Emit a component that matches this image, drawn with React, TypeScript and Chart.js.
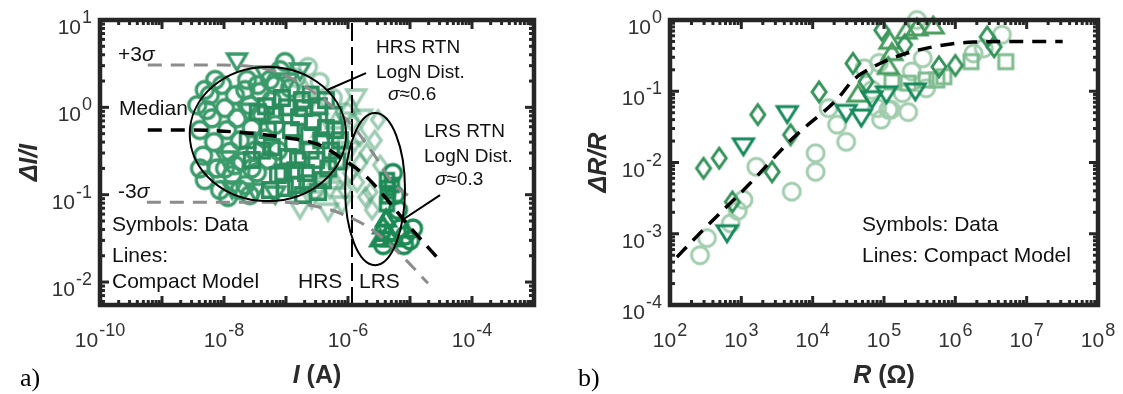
import React, { useEffect, useRef } from 'react';
import { Chart, registerables } from 'chart.js';

Chart.register(...registerables);

type Pt = [number, number];

const SANS = '"Liberation Sans", Arial, Helvetica, sans-serif';
const SERIF = '"Liberation Serif", "Times New Roman", serif';

// ---------------- Panel a : ΔI/I versus I ----------------
const aXRange = [1e-10, 1e-3];
const aYRange = [0.00546, 10];
const aXTickExps = [-10, -8, -6, -4];
const aYTickExps = [1, 0, -1, -2];

const aCircles: Pt[] = [
  [3.7e-9, 1.06], [4.1e-9, 0.55], [4.6e-9, 0.28], [4.9e-9, 0.147], [5.9e-9, 1.38], [6.4e-9, 0.75],
  [6.9e-9, 0.40], [7.7e-9, 0.20], [8.6e-9, 0.113], [9.3e-9, 1.8], [1.04e-8, 0.98], [1.12e-8, 0.55],
  [1.25e-8, 0.31], [1.35e-8, 0.168], [1.5e-8, 1.38], [1.62e-8, 0.75], [1.8e-8, 0.42], [1.95e-8, 0.24],
  [2.2e-8, 0.129], [2.35e-8, 2.06], [2.6e-8, 1.06], [2.8e-8, 0.58], [3.2e-8, 0.32], [3.4e-8, 0.18],
  [3.8e-8, 1.5], [4.1e-8, 0.82], [4.6e-8, 0.44], [5.1e-8, 0.25], [5.5e-8, 2.06], [5.9e-8, 1.21],
  [6.7e-8, 0.63], [7.4e-8, 0.32], [8e-8, 2.67], [9.6e-8, 3.3], [2.6e-8, 0.099], [1.16e-8, 0.094],
  [5.3e-9, 0.93], [1.5e-8, 0.218], [3.5e-8, 1.8], [1.16e-7, 1.66], [7.2e-9, 2.06], [4.9e-9, 1.58],
  [2.2e-8, 1.58], [1.04e-8, 0.2], [4.1e-9, 0.2], [2.8e-8, 0.2], [6.7e-8, 1.8], [1.8e-8, 0.113],
];
const aSquares: Pt[] = [
  [2.4e-8, 0.42], [2.8e-8, 0.25], [3.5e-8, 0.88], [4.1e-8, 0.32], [4.75e-8, 1.03], [5.1e-8, 0.55],
  [5.9e-8, 0.35], [6.7e-8, 0.82], [7.4e-8, 0.168], [8.6e-8, 1.28], [9e-8, 0.18], [1.04e-7, 1.0],
  [1.08e-7, 0.27], [1.2e-7, 0.55], [1.3e-7, 0.39], [1.45e-7, 0.129], [1.56e-7, 0.25], [1.62e-7, 0.77],
  [1.8e-7, 1.21], [1.95e-7, 0.98], [2.1e-7, 0.177], [2.35e-7, 0.48], [2.5e-7, 0.32], [2.7e-7, 0.68],
  [3.05e-7, 0.25], [3.4e-7, 1.03], [3.7e-7, 0.42], [3.95e-7, 0.147], [4.4e-7, 0.58], [5.3e-7, 0.32],
  [5.9e-7, 0.82], [6.65e-7, 0.24], [9.6e-8, 0.119], [5.5e-8, 0.113], [1.88e-7, 0.099], [3.3e-7, 0.107],
  [2.5e-7, 1.4], [4.4e-7, 1.21], [6.2e-7, 0.55], [7.4e-7, 0.42], [1.4e-7, 0.19], [4.8e-7, 0.2],
  [2.2e-7, 0.135],
];
const aDownTri: Pt[] = [
  [1.62e-8, 3.3], [3.2e-8, 0.107], [2.35e-8, 0.88], [1.08e-8, 0.25], [4.6e-8, 2.34], [1.08e-7, 1.95],
  [1.35e-8, 0.113], [6.7e-8, 0.099], [1.68e-7, 2.54],
];
const aLightCircles: Pt[] = [
  [2.26e-7, 2.9], [3.5e-7, 1.95], [5.7e-7, 1.28], [9e-7, 0.88], [1.45e-7, 2.17], [2.9e-7, 0.113],
];
const aLightUpTri: Pt[] = [
  [2.0e-7, 1.66], [3.3e-7, 1.06], [6.4e-7, 0.72], [8.3e-7, 0.42], [4.4e-7, 0.191], [1.08e-6, 1.06],
  [6.2e-7, 0.147], [3.8e-7, 0.58],
];
const aLightDownTri: Pt[] = [
  [2.6e-7, 0.087], [4.75e-7, 0.063], [8e-7, 0.076], [1.35e-6, 1.28], [1.68e-6, 0.75], [1.08e-6, 0.32],
  [1.68e-7, 0.067], [5.1e-7, 0.113],
];
const aLightDiamonds: Pt[] = [
  [1.16e-6, 0.68], [1.56e-6, 0.46], [2.0e-6, 0.30], [1.56e-6, 0.23], [1.9e-6, 0.094], [1.08e-6, 0.177],
  [2.3e-6, 0.107], [2.7e-6, 0.42], [2.44e-6, 0.067], [3.3e-6, 0.218], [1.4e-6, 0.139], [9e-7, 0.113],
  [3.05e-6, 0.72], [7.4e-7, 0.25],
];
const aLrsSquares: Pt[] = [
  [4.25e-6, 0.147], [4.4e-6, 0.119], [4.4e-6, 0.096], [4.25e-6, 0.078], [5.1e-6, 0.129],
];
const aLrsUpTri: Pt[] = [
  [3.7e-6, 0.045], [4.4e-6, 0.037], [3.3e-6, 0.032], [5.1e-6, 0.032], [4.1e-6, 0.054],
];
const aLrsCircles: Pt[] = [
  [5.3e-6, 0.177], [6.9e-6, 0.041], [8.3e-6, 0.034], [1e-5, 0.030], [8e-6, 0.0265], [1.12e-5, 0.041],
  [6.4e-6, 0.067], [5.7e-6, 0.099], [3.7e-6, 0.0265],
];

// compact model lines (panel a)
const aMedianI = [5.9e-10, 2.8e-9, 2.35e-8, 8e-8, 3.5e-7, 7.4e-7, 2.0e-6, 1e-5, 2.7e-5];
const aMedianY = [0.55, 0.55, 0.51, 0.46, 0.37, 0.27, 0.159, 0.0426, 0.0193];
const aUpperI = [5.9e-10, 9.6e-9, 7.2e-8, 1.88e-7, 1.08e-6, 2.53e-6, 5.3e-6, 1.2e-5];
const aUpperY = [3.05, 3.05, 2.54, 1.8, 0.66, 0.30, 0.136, 0.087];
const aLowerI = [5.7e-10, 8e-8, 3.5e-7, 7.4e-7, 2.3e-6, 6.9e-6, 1.95e-5];
const aLowerY = [0.082, 0.082, 0.072, 0.0615, 0.041, 0.0209, 0.0097];
const aBoundaryI = 1.16e-6; // HRS / LRS boundary

// ellipses: [I left, I right, y top, y bottom]
const aHrsEllipse = [2.8e-9, 9.3e-7, 2.9, 0.0845];
const aLrsEllipse = [9e-7, 8.3e-6, 0.86, 0.0156];
const aHrsLeader: Pt[] = [[4.6e-7, 1.58], [1.95e-6, 2.47]];
const aLrsLeader: Pt[] = [[7.4e-6, 0.051], [3.05e-5, 0.099]];

// ---------------- Panel b : ΔR/R versus R ----------------
const bXRange = [1e2, 1e8];
const bYRange = [1e-4, 1];
const bXTickExps = [2, 3, 4, 5, 6, 7, 8];
const bYTickExps = [0, -1, -2, -3, -4];

const bCircles: Pt[] = [
  [263, 0.0005], [330, 0.00087], [710, 0.0014], [890, 0.0021], [1070, 0.003], [1620, 0.0087],
  [5100, 0.0039], [11000, 0.0135], [11000, 0.0074], [16700, 0.058], [22000, 0.034], [29500, 0.0195],
  [53000, 0.21], [85000, 0.25], [91000, 0.040], [115000, 0.055], [125000, 0.055], [218000, 0.051],
  [182000, 0.094], [245000, 0.19], [350000, 0.29], [290000, 1.0], [390000, 0.11], [1.8e6, 0.34],
  [2.5e6, 0.40], [4.5e6, 0.62], [68000, 0.104], [80000, 0.058],
];
const bSquares: Pt[] = [
  [129000, 0.135], [390000, 0.144], [550000, 0.144], [690000, 0.16], [1.66e6, 0.26], [5.1e6, 0.26],
  [218000, 0.13],
];
const bDiamonds: Pt[] = [
  [295, 0.0083], [490, 0.0115], [750, 0.0028], [1700, 0.047], [2700, 0.0074], [4900, 0.0245],
  [12300, 0.098], [36700, 0.246], [56000, 0.136], [93000, 0.72], [195000, 0.45], [590000, 0.22],
  [1.0e6, 0.23], [2.8e6, 0.58], [3.5e6, 0.42],
];
const bDownTri: Pt[] = [
  [630, 0.0010], [1070, 0.0166], [4400, 0.047], [29500, 0.049], [48000, 0.042], [68000, 0.076],
  [108000, 0.089], [275000, 0.098],
];
const bUpTri: Pt[] = [
  [43000, 0.094], [115000, 0.23], [129000, 0.36], [121000, 0.52], [205000, 0.72], [290000, 0.80],
  [490000, 0.85],
];
const bModelR = [125, 263, 1200, 5300, 22700, 37000, 71000, 170000, 490000, 1.8e6, 1e7, 3.2e7];
const bModelY = [0.00047, 0.00102, 0.0046, 0.022, 0.080, 0.144, 0.22, 0.32, 0.42, 0.49, 0.50, 0.50];

// ---------------- helpers ----------------
type Shape = 'circle' | 'square' | 'diamond' | 'triUp' | 'triDown';

function makeMarker(shape: Shape, color: string, lw: number, w: number, h: number) {
  const pad = lw * 2 + 2;
  const c = document.createElement('canvas');
  c.width = Math.ceil(w + pad * 2);
  c.height = Math.ceil(h + pad * 2);
  const g = c.getContext('2d')!;
  g.strokeStyle = color;
  g.lineWidth = lw;
  g.lineJoin = 'miter';
  const cx = c.width / 2;
  const cy = c.height / 2;
  g.beginPath();
  if (shape === 'circle') g.ellipse(cx, cy, w / 2, h / 2, 0, 0, Math.PI * 2);
  else if (shape === 'square') g.rect(cx - w / 2, cy - h / 2, w, h);
  else if (shape === 'diamond') {
    g.moveTo(cx, cy - h / 2); g.lineTo(cx + w / 2, cy); g.lineTo(cx, cy + h / 2); g.lineTo(cx - w / 2, cy); g.closePath();
  } else if (shape === 'triUp') {
    g.moveTo(cx, cy - h / 2); g.lineTo(cx + w / 2, cy + h / 2); g.lineTo(cx - w / 2, cy + h / 2); g.closePath();
  } else {
    g.moveTo(cx - w / 2, cy - h / 2); g.lineTo(cx + w / 2, cy - h / 2); g.lineTo(cx, cy + h / 2); g.closePath();
  }
  g.stroke();
  return c;
}

function scatterSet(data: Pt[], img: HTMLCanvasElement) {
  return {
    data: data.map(([x, y]) => ({ x, y })),
    pointStyle: img,
    pointRadius: 9,
    showLine: false,
    clip: false as const,
  };
}

function lineSet(xs: number[], ys: number[], color: string, width: number, dash: number[], smooth = true) {
  return {
    data: xs.map((x, i) => ({ x, y: ys[i] })),
    showLine: true,
    borderColor: color,
    borderWidth: width,
    borderDash: dash,
    borderCapStyle: 'butt' as const,
    pointRadius: 0,
    fill: false,
    tension: 0,
    cubicInterpolationMode: smooth ? ('monotone' as const) : ('default' as const),
  };
}

type Run = [string, string];

function drawRuns(ctx: CanvasRenderingContext2D, runs: Run[], x: number, y: number, align: 'left' | 'center' = 'left', color = '#111') {
  ctx.save();
  ctx.fillStyle = color;
  ctx.textBaseline = 'alphabetic';
  ctx.textAlign = 'left';
  let total = 0;
  for (const [t, f] of runs) { ctx.font = f; total += ctx.measureText(t).width; }
  let cx = align === 'center' ? x - total / 2 : x;
  for (const [t, f] of runs) { ctx.font = f; ctx.fillText(t, cx, y); cx += ctx.measureText(t).width; }
  ctx.restore();
}

function drawPow(ctx: CanvasRenderingContext2D, exp: number, x: number, baseY: number, align: 'center' | 'right') {
  const es = String(exp);
  ctx.save();
  ctx.fillStyle = '#333';
  ctx.textAlign = 'left';
  ctx.textBaseline = 'alphabetic';
  ctx.font = `21px ${SANS}`;
  const wb = ctx.measureText('10').width;
  ctx.font = `18px ${SANS}`;
  const ws = ctx.measureText(es).width;
  const total = wb + 1 + ws;
  const x0 = align === 'center' ? x - total / 2 : x - total;
  ctx.font = `21px ${SANS}`;
  ctx.fillText('10', x0, baseY);
  ctx.font = `18px ${SANS}`;
  ctx.fillText(es, x0 + wb + 1, baseY - 11);
  ctx.restore();
}

function drawFrame(chart: any, xTicks: number[], yTicks: number[]) {
  const ctx: CanvasRenderingContext2D = chart.ctx;
  const { left, right, top, bottom } = chart.chartArea;
  const xs = chart.scales.x;
  const ys = chart.scales.y;
  ctx.save();
  ctx.strokeStyle = '#262626';
  ctx.lineCap = 'butt';
  ctx.lineWidth = 3;
  const seg = (x1: number, y1: number, x2: number, y2: number) => {
    ctx.beginPath(); ctx.moveTo(x1, y1); ctx.lineTo(x2, y2); ctx.stroke();
  };
  const xmin = xs.min, xmax = xs.max, ymin = ys.min, ymax = ys.max;
  for (let e = Math.floor(Math.log10(xmin)); e <= Math.ceil(Math.log10(xmax)); e++) {
    for (let m = 1; m <= 9; m++) {
      const v = m * Math.pow(10, e);
      if (v < xmin * 0.999 || v > xmax * 1.001) continue;
      const p = xs.getPixelForValue(v);
      const len = m === 1 ? 9 : 5;
      seg(p, bottom, p, bottom - len);
      seg(p, top, p, top + len);
    }
  }
  for (let e = Math.floor(Math.log10(ymin)); e <= Math.ceil(Math.log10(ymax)); e++) {
    for (let m = 1; m <= 9; m++) {
      const v = m * Math.pow(10, e);
      if (v < ymin * 0.999 || v > ymax * 1.001) continue;
      const p = ys.getPixelForValue(v);
      const len = m === 1 ? 9 : 5;
      seg(left, p, left + len, p);
      seg(right, p, right - len, p);
    }
  }
  ctx.lineWidth = 4.5;
  ctx.lineJoin = 'miter';
  ctx.strokeRect(left, top, right - left, bottom - top);
  ctx.restore();
  for (const e of xTicks) drawPow(ctx, e, xs.getPixelForValue(Math.pow(10, e)), bottom + 42, 'center');
  for (const e of yTicks) drawPow(ctx, e, left - 8, ys.getPixelForValue(Math.pow(10, e)) + 14, 'right');
}

function drawYTitle(ctx: CanvasRenderingContext2D, runs: Run[], x: number, y: number) {
  ctx.save();
  ctx.translate(x, y);
  ctx.rotate(-Math.PI / 2);
  drawRuns(ctx, runs, 0, 0, 'center', '#2b2b2b');
  ctx.restore();
}

const T21 = `21px ${SANS}`;
const T19 = `19px ${SANS}`;
const S21 = `italic 21px ${SANS}`;
const S19 = `italic 19px ${SANS}`;
const TB = `bold 25px ${SANS}`;
const TBI = `italic bold 25px ${SANS}`;
const LAB = `26px ${SERIF}`;

export default function App() {
  const refA = useRef<HTMLCanvasElement>(null);
  const refB = useRef<HTMLCanvasElement>(null);

  useEffect(() => {
    const green = '#3b9b6b';
    const greenSq = '#2b8d5d';
    const light = 'rgba(62,155,105,0.5)';
    const lrs = '#1c8a55';
    const mA = {
      circle: makeMarker('circle', green, 3.3, 17, 17),
      square: makeMarker('square', greenSq, 3.3, 14.5, 14.5),
      down: makeMarker('triDown', green, 3.3, 19, 16),
      lCircle: makeMarker('circle', light, 3.3, 17, 17),
      lUp: makeMarker('triUp', light, 3.3, 19, 16),
      lDown: makeMarker('triDown', light, 3.3, 19, 16),
      lDiamond: makeMarker('diamond', light, 3.3, 13, 18),
      rSquare: makeMarker('square', lrs, 3.3, 13, 13),
      rUp: makeMarker('triUp', lrs, 3.8, 18, 15),
      rCircle: makeMarker('circle', lrs, 3.3, 17, 17),
    };

    const plugA = {
      id: 'panelA',
      afterDatasetsDraw(chart: any) {
        const ctx: CanvasRenderingContext2D = chart.ctx;
        const xs = chart.scales.x, ys = chart.scales.y;
        ctx.save();
        ctx.strokeStyle = '#000';
        ctx.lineWidth = 2;
        for (const el of [aHrsEllipse, aLrsEllipse]) {
          const x1 = xs.getPixelForValue(el[0]), x2 = xs.getPixelForValue(el[1]);
          const y1 = ys.getPixelForValue(el[2]), y2 = ys.getPixelForValue(el[3]);
          ctx.beginPath();
          ctx.ellipse((x1 + x2) / 2, (y1 + y2) / 2, (x2 - x1) / 2, (y2 - y1) / 2, 0, 0, Math.PI * 2);
          ctx.stroke();
        }
        for (const ld of [aHrsLeader, aLrsLeader]) {
          ctx.beginPath();
          ctx.moveTo(xs.getPixelForValue(ld[0][0]), ys.getPixelForValue(ld[0][1]));
          ctx.lineTo(xs.getPixelForValue(ld[1][0]), ys.getPixelForValue(ld[1][1]));
          ctx.stroke();
        }
        ctx.restore();
      },
      afterDraw(chart: any) {
        const ctx: CanvasRenderingContext2D = chart.ctx;
        drawFrame(chart, aXTickExps, aYTickExps);
        drawRuns(ctx, [['+3', T21], ['σ', S21]], 118, 61);
        drawRuns(ctx, [['Median', T21]], 119, 115);
        drawRuns(ctx, [['-3', T21], ['σ', S21]], 118, 198);
        drawRuns(ctx, [['Symbols: Data', T21]], 112, 231);
        drawRuns(ctx, [['Lines:', T21]], 112, 262);
        drawRuns(ctx, [['Compact Model', T21]], 112, 288);
        drawRuns(ctx, [['HRS', T21]], 298, 288);
        drawRuns(ctx, [['LRS', T21]], 359, 288);
        drawRuns(ctx, [['HRS RTN', T19]], 376, 53);
        drawRuns(ctx, [['LogN Dist.', T19]], 376, 78);
        drawRuns(ctx, [['σ', S19], ['≈0.6', T19]], 388, 100);
        drawRuns(ctx, [['LRS RTN', T19]], 424, 137);
        drawRuns(ctx, [['LogN Dist.', T19]], 424, 162);
        drawRuns(ctx, [['σ', S19], ['≈0.3', T19]], 435, 185);
        const { left, right, top, bottom } = chart.chartArea;
        drawRuns(ctx, [['I', TBI], [' (A)', TB]], (left + right) / 2, 383, 'center', '#2b2b2b');
        drawYTitle(ctx, [['ΔI/I', TBI]], 37, (top + bottom) / 2);
        drawRuns(ctx, [['a)', LAB]], 20, 386, 'left', '#000');
      },
    };

    const chartA = new Chart(refA.current!, {
      type: 'scatter',
      data: {
        datasets: [
          lineSet(aMedianI, aMedianY, '#000', 3.5, [14, 9]),
          lineSet(aUpperI, aUpperY, '#8c8c8c', 3, [14, 9]),
          lineSet(aLowerI, aLowerY, '#8c8c8c', 3, [14, 9]),
          lineSet([aBoundaryI, aBoundaryI], [aYRange[0], aYRange[1]], '#000', 2, [18, 6], false),
          scatterSet(aLrsUpTri, mA.rUp),
          scatterSet(aLrsSquares, mA.rSquare),
          scatterSet(aLrsCircles, mA.rCircle),
          scatterSet(aSquares, mA.square),
          scatterSet(aDownTri, mA.down),
          scatterSet(aCircles, mA.circle),
          scatterSet(aLightDiamonds, mA.lDiamond),
          scatterSet(aLightUpTri, mA.lUp),
          scatterSet(aLightDownTri, mA.lDown),
          scatterSet(aLightCircles, mA.lCircle),
        ] as any,
      },
      options: {
        animation: false,
        responsive: false,
        devicePixelRatio: 1,
        events: [],
        layout: { padding: { left: 100, top: 20, right: 561 - 534, bottom: 394 - 305 } },
        scales: {
          x: { type: 'logarithmic', min: aXRange[0], max: aXRange[1], display: false },
          y: { type: 'logarithmic', min: aYRange[0], max: aYRange[1], display: false },
        },
        plugins: { legend: { display: false }, tooltip: { enabled: false } },
      },
      plugins: [plugA],
    });

    const mB = {
      circle: makeMarker('circle', '#a2cdae', 3, 17, 17),
      square: makeMarker('square', '#7fbc8f', 3, 14, 14),
      diamond: makeMarker('diamond', '#35935a', 3, 14, 20),
      down: makeMarker('triDown', '#178a5c', 3, 20, 16),
      up: makeMarker('triUp', '#4a9d60', 3, 20, 16),
    };

    const plugB = {
      id: 'panelB',
      afterDraw(chart: any) {
        const ctx: CanvasRenderingContext2D = chart.ctx;
        drawFrame(chart, bXTickExps, bYTickExps);
        const off = 561;
        drawRuns(ctx, [['Symbols: Data', T21]], 862 - off, 231);
        drawRuns(ctx, [['Lines: Compact Model', T21]], 862 - off, 262);
        const { left, right, top, bottom } = chart.chartArea;
        drawRuns(ctx, [['R', TBI], [' (Ω)', TB]], (left + right) / 2, 383, 'center', '#2b2b2b');
        drawYTitle(ctx, [['ΔR/R', TBI]], 606 - off, (top + bottom) / 2);
        drawRuns(ctx, [['b)', LAB]], 578 - off, 386, 'left', '#000');
      },
    };

    const chartB = new Chart(refB.current!, {
      type: 'scatter',
      data: {
        datasets: [
          lineSet(bModelR, bModelY, '#000', 3.5, [14, 9]),
          scatterSet(bDownTri, mB.down),
          scatterSet(bDiamonds, mB.diamond),
          scatterSet(bUpTri, mB.up),
          scatterSet(bSquares, mB.square),
          scatterSet(bCircles, mB.circle),
        ] as any,
      },
      options: {
        animation: false,
        responsive: false,
        devicePixelRatio: 1,
        events: [],
        layout: { padding: { left: 670 - 561, top: 20, right: 1123 - 1098, bottom: 394 - 305 } },
        scales: {
          x: { type: 'logarithmic', min: bXRange[0], max: bXRange[1], display: false },
          y: { type: 'logarithmic', min: bYRange[0], max: bYRange[1], display: false },
        },
        plugins: { legend: { display: false }, tooltip: { enabled: false } },
      },
      plugins: [plugB],
    });

    return () => {
      chartA.destroy();
      chartB.destroy();
    };
  }, []);

  return (
    <div style={{ position: 'absolute', left: 0, top: 0, width: 1123, height: 394, background: '#fff', overflow: 'hidden' }}>
      <canvas ref={refA} width={561} height={394} style={{ position: 'absolute', left: 0, top: 0, width: 561, height: 394 }} />
      <canvas ref={refB} width={562} height={394} style={{ position: 'absolute', left: 561, top: 0, width: 562, height: 394 }} />
    </div>
  );
}
